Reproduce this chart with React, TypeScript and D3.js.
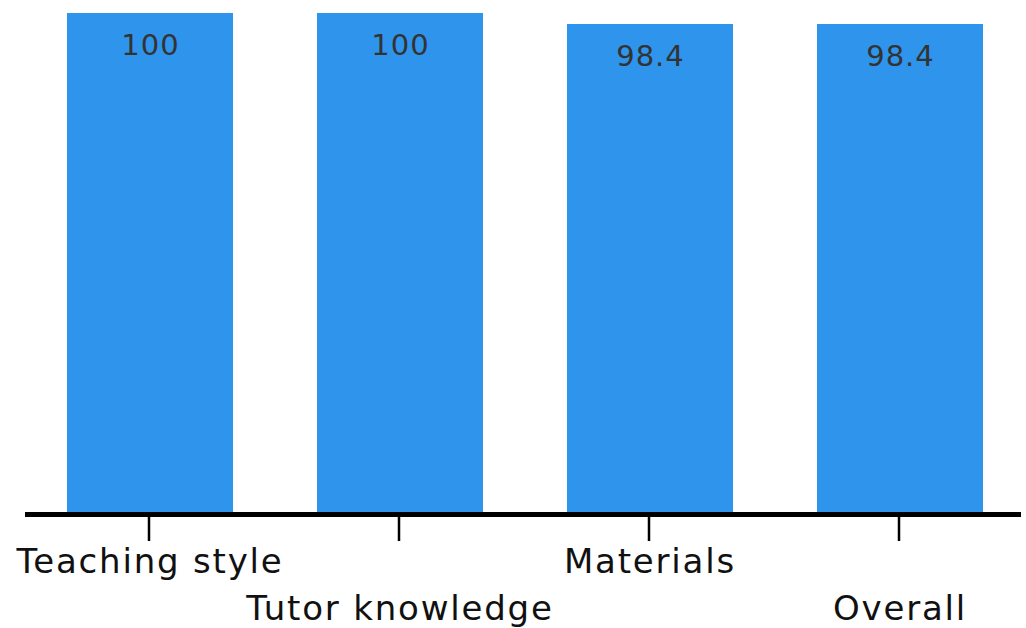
import { useEffect, useRef } from 'react';
import * as d3 from 'd3';

const categories = ['Teaching style', 'Tutor knowledge', 'Materials', 'Overall'];
const scores = [100, 100, 98.4, 98.4];
const scoreLabels = ['100', '100', '98.4', '98.4'];

const App = () => {
  const svgRef = useRef<SVGSVGElement | null>(null);

  useEffect(() => {
    if (!svgRef.current) return;
    const width = 1026;
    const height = 628;
    const baseY = 512;

    const svg = d3.select(svgRef.current).attr('width', width).attr('height', height);
    svg.selectAll('*').remove();

    const x = d3.scaleBand<string>()
      .domain(categories)
      .range([25, 1025])
      .paddingInner(0.336)
      .paddingOuter(0.168);

    const y = d3.scaleLinear().domain([27.4, 100]).range([baseY, 13]);

    const data = categories.map((c, i) => ({ name: c, value: scores[i], label: scoreLabels[i] }));

    // bars
    svg.selectAll('rect.bar')
      .data(data)
      .enter()
      .append('rect')
      .attr('class', 'bar')
      .attr('x', d => x(d.name)!)
      .attr('width', x.bandwidth())
      .attr('y', d => y(d.value))
      .attr('height', d => baseY - y(d.value))
      .attr('fill', '#2f94eb');

    // value labels inside bars
    svg.selectAll('text.value')
      .data(data)
      .enter()
      .append('text')
      .attr('class', 'value')
      .attr('x', d => x(d.name)! + x.bandwidth() / 2 + 0.5)
      .attr('y', d => y(d.value) + 42)
      .attr('text-anchor', 'middle')
      .attr('font-family', 'DejaVu Sans')
      .attr('font-size', 29)
      .attr('letter-spacing', 1)
      .attr('fill', '#333')
      .text(d => d.label);

    // axis line
    svg.append('line')
      .attr('x1', 25)
      .attr('x2', 1021)
      .attr('y1', baseY + 2.5)
      .attr('y2', baseY + 2.5)
      .attr('stroke', '#000')
      .attr('stroke-width', 5);

    // ticks
    svg.selectAll('line.tick')
      .data(data)
      .enter()
      .append('line')
      .attr('class', 'tick')
      .attr('x1', d => x(d.name)! + x.bandwidth() / 2 - 1)
      .attr('x2', d => x(d.name)! + x.bandwidth() / 2 - 1)
      .attr('y1', baseY + 5)
      .attr('y2', 541)
      .attr('stroke', '#000')
      .attr('stroke-width', 2.5);

    // category labels, staggered
    svg.selectAll('text.cat')
      .data(data)
      .enter()
      .append('text')
      .attr('class', 'cat')
      .attr('x', d => x(d.name)! + x.bandwidth() / 2)
      .attr('y', (_d, i) => (i % 2 === 0 ? 573 : 620))
      .attr('text-anchor', 'middle')
      .attr('font-family', 'DejaVu Sans')
      .attr('font-size', 34)
      .attr('letter-spacing', 1.8)
      .attr('fill', '#111')
      .text(d => d.name);
  }, []);

  return (
    <svg ref={svgRef} style={{ position: 'absolute', left: 0, top: 0 }}></svg>
  );
};

export default App;
